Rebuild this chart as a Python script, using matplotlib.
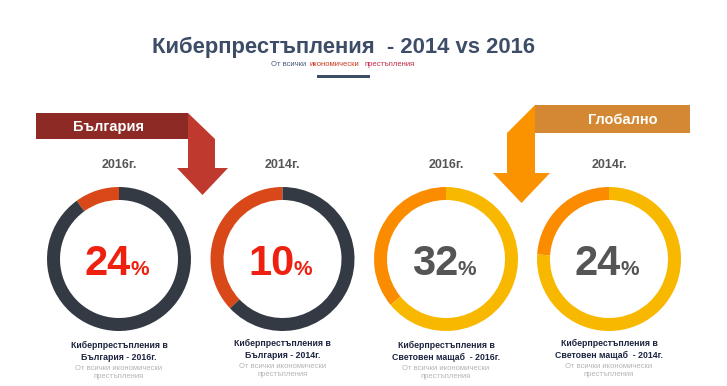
import matplotlib.pyplot as plt
from matplotlib.patches import Polygon, Rectangle

plt.rcParams['font.family'] = ['Liberation Sans', 'DejaVu Sans']

W, H = 727, 386

# chart data
years = ['2016г.', '2014г.', '2016г.', '2014г.']
values = [24, 10, 32, 24]              # number printed in the ring
ring_share = [10, 37, 36, 24]          # share of the ring that is highlighted
captions = ['Киберпрестъпления в\nБългария - 2016г.',
            'Киберпрестъпления в\nБългария - 2014г.',
            'Киберпрестъпления в\nСветовен мащаб  - 2016г.',
            'Киберпрестъпления в\nСветовен мащаб  - 2014г.']
subcaption = 'От всички икономически\nпрестъпления'
groups = ['bg', 'bg', 'world', 'world']

styles = {
    'bg': dict(seg='#d84818', base='#343a44', num='#ee2010'),
    'world': dict(seg='#fb8c00', base='#f9b800', num='#555555'),
}

centers = [119, 282.5, 446, 609]
cy = 259
cap_y = [345, 343, 345, 343]


def Y(y):
    return H - y


fig = plt.figure(figsize=(W / 100, H / 100), dpi=100)
ax = fig.add_axes([0, 0, 1, 1])

# title block
ax.text(343, Y(53), 'Киберпрестъпления  - 2014 vs 2016', ha='center', va='baseline',
        fontsize=15.8, fontweight='bold', color='#3d4d68')
ax.text(289, Y(64), 'От всички', ha='center', va='center', fontsize=5.5, color='#4a5a7a')
ax.text(334.5, Y(64), 'икономически', ha='center', va='center', fontsize=5.5, color='#cc3a22')
ax.text(390, Y(64), 'престъпления', ha='center', va='center', fontsize=5.5, color='#c22a48')
ax.add_patch(Rectangle((317, Y(77.5)), 53, 3, color='#3d4d68', lw=0))

# Bulgaria banner + bent arrow
ax.add_patch(Rectangle((36, Y(139)), 152, 26, color='#8e2a25', lw=0))
ax.add_patch(Polygon([(188, Y(113)), (215, Y(139)), (215, Y(168)), (228, Y(168)),
                      (202.5, Y(195)), (177, Y(168)), (188, Y(168))],
                     closed=True, color='#c0392f', lw=0))
ax.text(109, Y(127), 'България', ha='center', va='center', fontsize=10.5,
        fontweight='bold', color='white')

# global banner + bent arrow
ax.add_patch(Rectangle((535, Y(133)), 155, 28, color='#d58834', lw=0))
ax.add_patch(Polygon([(535, Y(105)), (507, Y(133)), (507, Y(173)), (493, Y(173)),
                      (521.5, Y(203)), (550, Y(173)), (535, Y(173))],
                     closed=True, color='#fb9200', lw=0))
ax.text(623, Y(120), 'Глобално', ha='center', va='center', fontsize=10.5,
        fontweight='bold', color='white')

for i in range(4):
    st = styles[groups[i]]
    cx = centers[i]
    ax.pie([ring_share[i], 100 - ring_share[i]], colors=[st['seg'], st['base']],
           startangle=90, counterclock=True, center=(cx, Y(cy)), radius=72,
           wedgeprops=dict(width=13, linewidth=0), frame=True)
    ax.text(cx, Y(165), years[i], ha='center', va='center', fontsize=9,
            fontweight='bold', color='#555555')
    ax.text(cx + 12, Y(275), str(values[i]), ha='right', va='baseline', fontsize=30,
            fontweight='bold', color=st['num'])
    ax.text(cx + 11.5, Y(275), '%', ha='left', va='baseline', fontsize=15,
            fontweight='bold', color=st['num'])
    ax.text(cx, Y(cap_y[i] - 4), captions[i], ha='center', va='top', fontsize=6.3,
            fontweight='bold', color='#1c2440', linespacing=1.35)
    ax.text(cx, Y(cap_y[i] + 20), subcaption, ha='center', va='top', fontsize=5.5,
            color='#b4b4b4', linespacing=1.3)

ax.set_xlim(0, W)
ax.set_ylim(0, H)
ax.set_aspect('auto')
ax.axis('off')

fig.savefig('out.png', dpi=100, facecolor='white')
